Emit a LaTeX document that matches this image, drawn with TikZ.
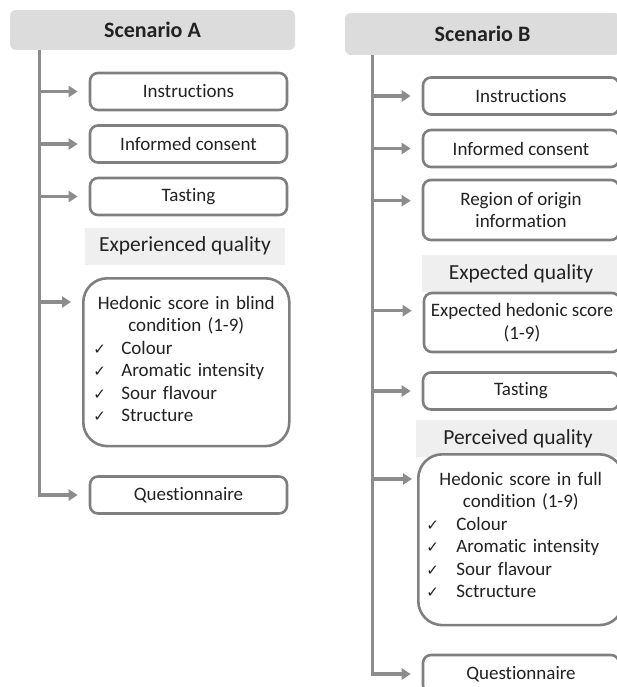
\documentclass[tikz,border=0pt]{standalone}
\usepackage{fontspec}
\setmainfont{Carlito}[Ligatures=NoCommon]
\newfontfamily\symfont{DejaVu Sans}
\usetikzlibrary{arrows.meta, calc}
\definecolor{wiregray}{HTML}{8C8C8C}
\definecolor{framegray}{HTML}{7F7F7F}
\definecolor{hdrfill}{HTML}{DCDCDC}
\definecolor{lblfill}{HTML}{EFEFEF}
\definecolor{inkgray}{HTML}{222222}
\newcommand{\chk}{\makebox[28pt][l]{\symfont\fontsize{15}{17}\selectfont ✓}}
\tikzset{
    scen-hdr/.style={
        fill=hdrfill, rounded corners=6pt, inner sep=0pt, text=inkgray,
        font=\fontsize{22}{26}\selectfont\bfseries
    },
    stage-box/.style={
        draw=framegray, line width=2.6pt, rounded corners=8pt, fill=white,
        inner sep=0pt, align=center, text=inkgray,
        minimum width=197pt, minimum height=37pt,
        font=\fontsize{19}{22.5}\selectfont
    },
    score-box/.style={
        stage-box, rounded corners=24pt, anchor=north west, align=left,
        minimum width=0pt, minimum height=0pt, inner ysep=18pt
    },
    quality-lbl/.style={
        fill=lblfill, inner sep=0pt, text=inkgray, minimum height=37pt,
        font=\fontsize{21.5}{25}\selectfont
    },
    flow/.style={
        draw=wiregray, line width=3.3pt, -{Triangle[length=9pt,width=11pt]},
        shorten >=11pt
    },
}

\begin{document}
\begin{tikzpicture}[x=1pt, y=-1pt]

        % CANVAS
        \clip (0,0) rectangle (617,687);

        % SCENARIO A
        \node[scen-hdr, minimum width=285pt, minimum height=40pt] (HDRA) at (152.5,30) {Scenario A};
        \coordinate[] (TRUNKA) at ($(HDRA.south west) + (30,0)$);

        \node[stage-box]   (INSTRA) at (188.5,91.5) {Instructions};
        \node[stage-box]   (CONSA)  at (188.5,144)  {Informed consent};
        \node[stage-box]   (TASTA)  at (188.5,196.5) {Tasting};
        \node[quality-lbl, minimum width=200pt] (EXPQA) at (185,246) {Experienced quality};
        \node[score-box, text width=186pt, inner xsep=10pt] (HEDA) at (82,277) {%
            {\centering Hedonic score in blind\\ condition (1-9)\par}
            \chk Colour\\
            \chk Aromatic intensity\\
            \chk Sour flavour\\
            \chk Structure\par\vspace{6pt}};
        \node[stage-box]   (QUESTA) at (188.5,495)  {Questionnaire};
        \coordinate[]      (HEDAIN) at ($(HEDA.north west) + (0,25)$);

        % SCENARIO A WIRES
        \draw[flow] (TRUNKA |- INSTRA) -- (INSTRA);
        \draw[flow] (TRUNKA |- CONSA)  -- (CONSA);
        \draw[flow] (TRUNKA |- TASTA)  -- (TASTA);
        \draw[flow] (TRUNKA |- HEDAIN) -- (HEDAIN);
        \draw[flow] (TRUNKA) -- (TRUNKA |- QUESTA) -- (QUESTA);

        % SCENARIO B
        \node[scen-hdr, minimum width=275pt, minimum height=42pt] (HDRB) at (482.5,34) {Scenario B};
        \coordinate[] (TRUNKB) at ($(HDRB.south west) + (28,0)$);

        \node[stage-box, minimum width=196pt] (INSTRB) at (521,96)  {Instructions};
        \node[stage-box, minimum width=196pt] (CONSB)  at (521,148.5) {Informed consent};
        \node[stage-box, minimum width=196pt, minimum height=60pt] (REGB) at (521,210) {Region of origin\\information};
        \node[quality-lbl, minimum width=198pt] (EXPQB) at (521,273.5) {Expected quality};
        \node[stage-box, minimum width=196pt, minimum height=59pt] (EXPHB) at (522,322.5) {Expected hedonic score\\(1-9)};
        \node[stage-box, minimum width=196pt] (TASTB)  at (521,391) {Tasting};
        \node[quality-lbl, minimum width=205pt] (PERCQB) at (518,438.5) {Perceived quality};
        \node[score-box, text width=189pt, inner xsep=8pt] (HEDB) at (417,453) {%
            {\centering Hedonic score in full\\ condition (1-9)\par}
            \chk\hspace{2pt}Colour\\
            \chk\hspace{2pt}Aromatic intensity\\
            \chk\hspace{2pt}Sour flavour\\
            \chk\hspace{2pt}Sctructure\par\vspace{9pt}};
        \node[stage-box, minimum width=196pt, minimum height=38pt] (QUESTB) at (521,674) {Questionnaire};
        \coordinate[]      (REGBIN)  at ($(REGB.north west) + (0,22)$);
        \coordinate[]      (EXPHBIN) at ($(EXPHB.north west) + (0,19)$);
        \coordinate[]      (HEDBIN)  at ($(HEDB.north west) + (0,26)$);

        % SCENARIO B WIRES
        \draw[flow] (TRUNKB |- INSTRB)  -- (INSTRB);
        \draw[flow] (TRUNKB |- CONSB)   -- (CONSB);
        \draw[flow] (TRUNKB |- REGBIN)  -- (REGBIN);
        \draw[flow] (TRUNKB |- EXPHBIN) -- (EXPHBIN);
        \draw[flow] (TRUNKB |- TASTB)   -- (TASTB);
        \draw[flow, shorten >=5pt] (TRUNKB |- HEDBIN) -- (HEDBIN);
        \draw[flow] (TRUNKB) -- (TRUNKB |- QUESTB) -- (QUESTB);

    \end{tikzpicture}
\end{document}
